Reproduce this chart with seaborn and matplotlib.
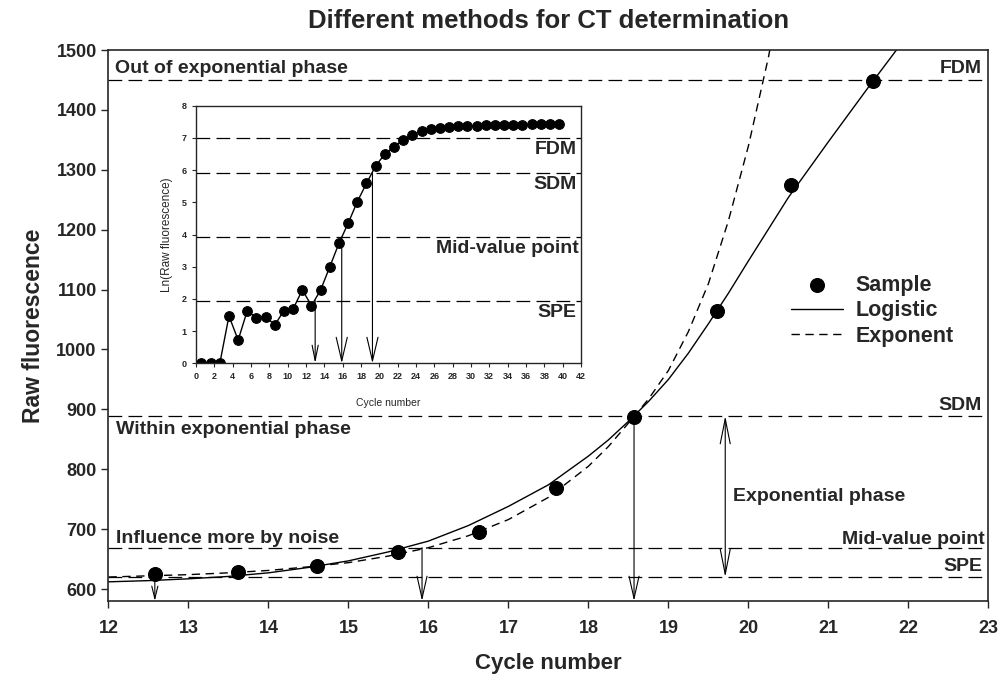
import seaborn as sns
import numpy as np
import matplotlib
matplotlib.use("Agg")
import matplotlib.pylab as plt

# main chart: sample points (cycle, raw fluorescence)
sample_cycle = [12.58, 13.62, 14.61, 15.62, 16.63, 17.60, 18.57, 19.61, 20.53, 21.56]
sample_fluo = [625, 628, 638, 661, 695, 769, 888, 1065, 1275, 1449]

# fitted curves
logistic_cycle = [12.0, 12.5, 13.0, 13.5, 14.0, 14.5, 15.0, 15.5, 16.0, 16.5, 17.0,
                  17.5, 18.0, 18.25, 18.5, 18.75, 19.0, 19.25, 19.5, 19.75, 20.0,
                  20.5, 21.0, 21.5, 21.85]
logistic_fluo = [612, 614, 617, 621, 627, 636, 647, 662, 680, 706, 738,
                 774, 822, 849, 880, 913, 950, 994, 1043, 1094, 1148,
                 1254, 1347, 1438, 1500]
exponent_cycle = [12.0, 12.5, 13.0, 13.5, 14.0, 14.5, 15.0, 15.5, 16.0, 16.5, 17.0,
                  17.5, 18.0, 18.25, 18.5, 18.75, 19.0, 19.25, 19.5, 19.75, 20.0,
                  20.25, 20.35]
exponent_fluo = [620, 622, 624, 627, 631, 637, 644, 655, 669, 689, 716,
                 753, 805, 838, 877, 917, 965, 1030, 1110, 1215, 1340,
                 1488, 1560]

# threshold lines
main_levels = {"FDM": 1450, "SDM": 889, "Mid-value point": 669, "SPE": 620}
ct_arrows = [12.58, 15.92, 18.57]

# inset: whole run, Ln(raw fluorescence)
inset_cycle = [0.6, 1.6, 2.6, 3.6, 4.6, 5.6, 6.6, 7.6, 8.6, 9.6, 10.6, 11.6, 12.6, 13.6,
               14.6, 15.6, 16.6, 17.6, 18.6, 19.6, 20.6, 21.6, 22.6, 23.6, 24.6, 25.6,
               26.6, 27.6, 28.6, 29.6, 30.6, 31.6, 32.6, 33.6, 34.6, 35.6, 36.6, 37.6,
               38.6, 39.6]
inset_ln = [0, 0, 0, 1.47, 0.72, 1.64, 1.40, 1.45, 1.19, 1.64, 1.69, 2.28, 1.79, 2.28,
            3.00, 3.73, 4.35, 5.02, 5.59, 6.13, 6.50, 6.73, 6.94, 7.10, 7.20, 7.28,
            7.32, 7.34, 7.36, 7.37, 7.38, 7.39, 7.40, 7.40, 7.41, 7.41, 7.42, 7.42,
            7.42, 7.43]
inset_levels = {"FDM": 7.0, "SDM": 5.9, "Mid-value point": 3.92, "SPE": 1.95}
inset_arrows = [13.0, 15.9, 19.25]

sns.set_style("ticks")
plt.rcParams['font.family'] = ['Liberation Sans', 'DejaVu Sans']
plt.rcParams['font.weight'] = 'bold'

f = plt.figure(figsize=(10.04, 6.81), dpi=100)
ax = f.add_axes([0.108, 0.1175, 0.8765, 0.809])

dash = (0, (11, 5))
for name, lev in main_levels.items():
    ax.axhline(lev, color="black", lw=0.9, ls=dash)

sns.lineplot(x=logistic_cycle, y=logistic_fluo, ax=ax, color="black", lw=1.0, label="Logistic")
sns.lineplot(x=exponent_cycle, y=exponent_fluo, ax=ax, color="black", lw=1.0,
             linestyle=(0, (6, 4)), label="Exponent")
sns.scatterplot(x=sample_cycle, y=sample_fluo, ax=ax, color="black", s=100,
                edgecolor="black", zorder=5, label="Sample")

ax.set_xlim(12, 23)
ax.set_ylim(580, 1500)
ax.set_xticks(range(12, 24))
ax.set_yticks(range(600, 1501, 100))
ax.tick_params(labelsize=13, length=5, width=1, direction="out")
ax.tick_params(axis="x", pad=9)
for lab in ax.get_xticklabels() + ax.get_yticklabels():
    lab.set_fontweight("bold")
for s in ax.spines.values():
    s.set_linewidth(1.2)
    s.set_visible(True)
ax.set_xlabel("Cycle number", fontsize=16, fontweight="bold", labelpad=11)
ax.set_ylabel("Raw fluorescence", fontsize=16.5, fontweight="bold", labelpad=8)
ax.set_title("Different methods for CT determination", fontsize=18.5, fontweight="bold", pad=16)

# CT arrows down to the axis
heads = ["->,head_length=0.9,head_width=0.22", "->,head_length=1.6,head_width=0.36",
         "->,head_length=1.6,head_width=0.36"]
tops = [sample_fluo[0] - 6, main_levels["Mid-value point"], main_levels["SDM"]]
for xc, top, hs in zip(ct_arrows, tops, heads):
    ax.annotate("", xy=(xc, 580), xytext=(xc, top),
                arrowprops=dict(arrowstyle=hs, lw=0.8, color="black", shrinkA=0, shrinkB=0))
ax.annotate("", xy=(19.71, main_levels["SPE"]), xytext=(19.71, main_levels["SDM"]),
            arrowprops=dict(arrowstyle="<->,head_length=1.8,head_width=0.36", lw=0.8,
                            color="black", shrinkA=0, shrinkB=0))

fs = 14
ax.text(12.08, 1470, "Out of exponential phase", fontsize=fs, fontweight="bold", va="center")
ax.text(22.92, 1470, "FDM", fontsize=fs, fontweight="bold", va="center", ha="right")
ax.text(22.92, 907, "SDM", fontsize=fs, fontweight="bold", va="center", ha="right")
ax.text(12.1, 866, "Within exponential phase", fontsize=fs, fontweight="bold", va="center")
ax.text(12.1, 685, "Influence more by noise", fontsize=fs, fontweight="bold", va="center")
ax.text(22.95, 682, "Mid-value point", fontsize=fs, fontweight="bold", va="center", ha="right")
ax.text(22.92, 637, "SPE", fontsize=fs, fontweight="bold", va="center", ha="right")
ax.text(19.81, 754, "Exponential phase", fontsize=fs, fontweight="bold", va="center")

h, l = ax.get_legend_handles_labels()
order = [l.index("Sample"), l.index("Logistic"), l.index("Exponent")]
ax.legend([h[i] for i in order], [l[i] for i in order], loc="upper left",
          bbox_to_anchor=(0.788, 0.596), bbox_transform=f.transFigure, frameon=False,
          borderpad=0, borderaxespad=0, handlelength=2.4, handletextpad=0.6,
          labelspacing=0.2, prop=dict(size=15.5, weight="bold"), markerscale=1.0)

# inset
ia = f.add_axes([0.1952, 0.4665, 0.3835, 0.3783])
for name, lev in inset_levels.items():
    ia.axhline(lev, color="black", lw=0.9, ls=dash)
sns.lineplot(x=inset_cycle, y=inset_ln, ax=ia, color="black", lw=1.0, marker="o",
             markersize=7, markeredgecolor="black")
ia.set_xlim(0, 42)
ia.set_ylim(0, 8)
ia.set_xticks(range(0, 43, 2))
ia.set_yticks(range(0, 9))
ia.tick_params(labelsize=6.5, length=3, width=0.8, direction="out")
for s in ia.spines.values():
    s.set_linewidth(1.0)
    s.set_visible(True)
ia.set_xlabel("Cycle number", fontsize=7.5, fontweight="normal", labelpad=12)
ia.set_ylabel("Ln(Raw fluorescence)", fontsize=8.5, fontweight="normal", labelpad=6)

iheads = ["->,head_length=1.1,head_width=0.22", "->,head_length=1.7,head_width=0.4",
          "->,head_length=1.7,head_width=0.4"]
itops = [inset_levels["SPE"], inset_levels["Mid-value point"], inset_levels["SDM"]]
for xc, top, hs in zip(inset_arrows, itops, iheads):
    ia.annotate("", xy=(xc, 0), xytext=(xc, top),
                arrowprops=dict(arrowstyle=hs, lw=0.8, color="black", shrinkA=0, shrinkB=0))

ia.text(41.5, 6.65, "FDM", fontsize=fs, fontweight="bold", va="center", ha="right")
ia.text(41.5, 5.54, "SDM", fontsize=fs, fontweight="bold", va="center", ha="right")
ia.text(41.7, 3.55, "Mid-value point", fontsize=fs, fontweight="bold", va="center", ha="right")
ia.text(41.5, 1.58, "SPE", fontsize=fs, fontweight="bold", va="center", ha="right")

plt.savefig("out.png", dpi=100)
